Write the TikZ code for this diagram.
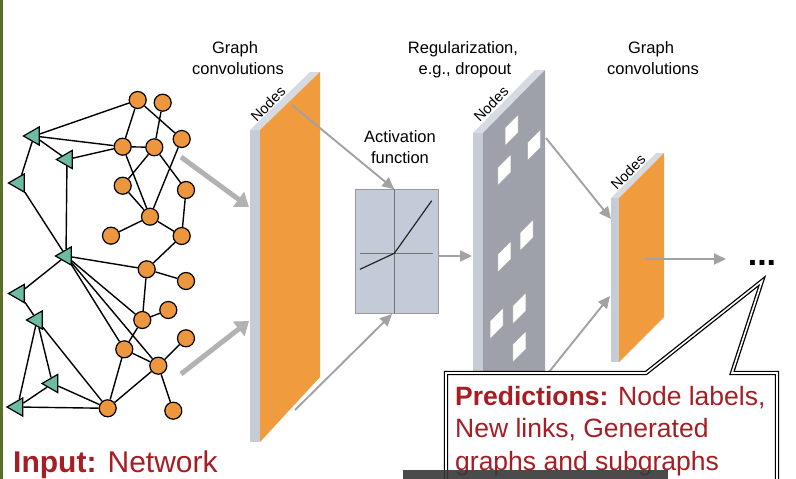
\documentclass[tikz,border=0pt]{standalone}
\usepackage{fontspec}
\setmainfont{Liberation Sans}
\usetikzlibrary{arrows.meta,shapes.geometric}
\definecolor{orng}{RGB}{236,150,62}
\definecolor{slaborng}{RGB}{240,155,62}
\definecolor{tealtri}{RGB}{108,188,164}
\definecolor{darkred}{RGB}{166,30,36}
\definecolor{sidegray}{RGB}{198,204,214}
\definecolor{topgray}{RGB}{214,218,226}
\definecolor{regface}{RGB}{158,161,169}
\definecolor{arrowgray}{RGB}{178,178,178}
\definecolor{linegray}{RGB}{162,162,162}
\definecolor{actfill}{RGB}{194,203,215}
\definecolor{bordergreen}{RGB}{88,112,42}
\tikzset{
  orn/.style={circle, draw=black, line width=1.2pt, fill=orng, minimum size=17pt, inner sep=0pt},
  tri/.style={regular polygon, regular polygon sides=3, shape border rotate=90, draw=black, line width=1.2pt, fill=tealtri, minimum size=21pt, inner sep=0pt},
  gedge/.style={draw=black, line width=1.4pt},
  thickarrow/.style={draw=arrowgray, line width=5pt, -{Triangle[length=13pt,width=18pt]}},
  thinarrow/.style={draw=linegray, line width=1.9pt, -{Triangle[length=12pt,width=11pt]}},
  lbl/.style={font=\fontsize{16.5}{20}\selectfont, anchor=base, inner sep=0pt},
  nodeslbl/.style={font=\fontsize{14.5}{16}\selectfont, rotate=45, inner sep=0pt},
  hole/.style={fill=white, draw=gray!70, line width=0.5pt},
  callout/.style={draw=black, line width=1.3pt, double=white, double distance=1.6pt, fill=white},
  redtxt/.style={text=darkred, anchor=base west, inner sep=0pt, font=\fontsize{26.5}{32}\selectfont}
}
\begin{document}
\begin{tikzpicture}[x=1pt,y=-1pt]
\useasboundingbox (0,0) rectangle (796,479);
\clip (0,0) rectangle (796,479);
\fill[white] (0,0) rectangle (796,479);
\fill[bordergreen] (0,0) rectangle (2.5,479);

% ---------- input graph ----------
\foreach \n/\x/\y in {o1/137.7/100, o2/162.7/102.7, o3/181.7/139, o4/122.7/146.7,
  o5/154.3/147.3, o6/122.7/185.7, o7/186/190, o8/150/216.7, o9/111/235.7,
  o10/181.7/236, o11/146.7/269.3, o12/186/281, o13/168.3/310, o14/142.3/320,
  o15/186/338.3, o16/124.3/349.3, o17/158.3/365.7, o18/107.7/408.3, o19/173.3/410.7}
  \node[orn] (\n) at (\x,\y) {};
\foreach \n/\x/\y in {t1/34/136, t2/67/159.5, t3/19/183, t4/66/256, t5/19/293.5,
  t6/37/320, t7/52.5/383.5, t8/17.5/407}
  \node[tri] (\n) at (\x,\y) {};
\foreach \a/\b in {o1/o4, o1/o3, o2/o5, o4/o5, o4/o8, o5/o6, o5/o7, o3/o8, o6/o8,
  o8/o9, o8/o10, o7/o10, o10/o11, o11/o12, o11/o14, o14/o13, o14/o16, o16/o17,
  o17/o15, o17/o19, o16/o18, o18/o17,
  t1/o1, t1/o4, t1/t2, t2/o4, t1/t3, t3/t4, t2/t4, t4/o11, t4/o14, t4/o16, t4/o17,
  t4/t5, t5/t6, t6/t8, t6/t7, t6/o18, t7/t8, t7/o18, t8/o18}
  \draw[gedge] (\a) -- (\b);

% ---------- slab 1 (graph convolutions) ----------
\fill[sidegray] (250,130) -- (260,130) -- (260,442) -- (250,442) -- cycle;
\fill[topgray] (250,130) -- (310,72) -- (320,72) -- (260,130) -- cycle;
\fill[slaborng] (260,130) -- (320,72) -- (320,377) -- (260,442) -- cycle;
\node[nodeslbl] (n1) at (268,104) {Nodes};

% ---------- activation box ----------
\node[draw=gray!80, fill=actfill, line width=0.6pt, minimum width=83pt, minimum height=124pt, inner sep=0pt] (act) at (396.7,251.3) {};
\coordinate (axt) at (394.3,189.3);
\coordinate (axb) at (394.3,313.3);
\coordinate (axl) at (360,253.3);
\coordinate (axr) at (432.7,253.3);
\draw[gray!90!black, line width=0.7pt] (axt) -- (axb);
\draw[gray!90!black, line width=0.7pt] (axl) -- (axr);
\coordinate (f0) at (360,269.3);
\coordinate (f1) at (394.3,253.3);
\coordinate (f2) at (431.7,200.7);
\draw[black!85, line width=1.2pt] (f0) -- (f1) -- (f2);

% ---------- slab 2 (regularization) ----------
\fill[sidegray] (473,133) -- (483,133) -- (483,446) -- (473,446) -- cycle;
\fill[topgray] (473,133) -- (535,70) -- (545,70) -- (483,133) -- cycle;
\fill[regface] (483,133) -- (545,70) -- (545,382) -- (483,446) -- cycle;
\foreach \x/\y in {511.7/130, 534/145, 504.3/170, 526.7/235, 504.3/256.7,
  519.3/308.3, 496.7/323.3, 519.3/346.7}
  \draw[hole] (\x-6.5,\y-2.5) -- (\x+6.5,\y-15.5) -- (\x+6.5,\y+2.5) -- (\x-6.5,\y+15.5) -- cycle;
\node[nodeslbl] (n2) at (491,104) {Nodes};

% ---------- slab 3 (graph convolutions) ----------
\fill[sidegray] (611,198) -- (619,198) -- (619,362) -- (611,362) -- cycle;
\fill[topgray] (611,198) -- (656,153) -- (664,153) -- (619,198) -- cycle;
\fill[slaborng] (619,198) -- (664,153) -- (664,317) -- (619,362) -- cycle;
\node[nodeslbl] (n3) at (628,172) {Nodes};

% ---------- connectors ----------
\coordinate (g1) at (181,157);
\coordinate (s1a) at (249,207);
\coordinate (g2) at (181,374);
\coordinate (s1b) at (249,321);
\draw[thickarrow] (g1) -- (s1a);
\draw[thickarrow] (g2) -- (s1b);
\coordinate (s1t) at (292,105);
\coordinate (s1d) at (295,410);
\coordinate (actb) at (392,314);
\draw[thinarrow] (s1t) -- (axt);
\draw[thinarrow] (s1d) -- (actb);
\coordinate (s2in) at (472,256);
\draw[thinarrow] (act.east |- s2in) -- (s2in);
\coordinate (s2t) at (546,138);
\coordinate (s3a) at (611,219);
\coordinate (s2d) at (549,372);
\coordinate (s3b) at (610,296);
\draw[thinarrow] (s2t) -- (s3a);
\draw[thinarrow] (s2d) -- (s3b);
\coordinate (s3o) at (645,259);
\coordinate (dotsin) at (726,259);
\draw[thinarrow] (s3o) -- (dotsin);
\node[font=\fontsize{34}{36}\selectfont\bfseries, anchor=base, inner sep=0pt] (dots) at (762,265) {...};

% ---------- labels ----------
\node[lbl] (l1a) at (235,53) {Graph};
\node[lbl] (l1b) at (238,74.5) {convolutions};
\node[lbl] (l2a) at (400,142.5) {Activation};
\node[lbl] (l2b) at (400,163.5) {function};
\node[lbl] (l3a) at (463,53) {Regularization,};
\node[lbl] (l3b) at (465,74.5) {e.g., dropout};
\node[lbl] (l4a) at (651,53) {Graph};
\node[lbl] (l4b) at (653,74.5) {convolutions};

% ---------- callout ----------
\draw[callout, line join=miter] (446,373) -- (646,373) -- (762,281) -- (732,373) -- (777,373) -- (777,500) -- (446,500) -- cycle;
\node[redtxt] (p1) at (455,405) {\textbf{Predictions:} Node labels,};
\node[redtxt] (p2) at (455,437.5) {New links, Generated};
\node[redtxt] (p3) at (455,470) {graphs and subgraphs};

\node[redtxt, font=\fontsize{30}{32}\selectfont] (inp) at (13,472) {\textbf{Input:} Network};

% ---------- subtitle bar ----------
\fill[black!78, opacity=0.9] (403,470) rectangle (668,479);
\end{tikzpicture}
\end{document}
